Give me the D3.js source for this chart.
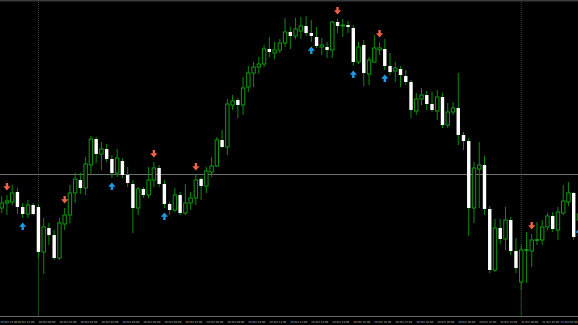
<!DOCTYPE html>
<html>
<head>
<meta charset="utf-8">
<script src="https://cdn.jsdelivr.net/npm/d3@7"></script>
<style>
    html, body { margin: 0; padding: 0; background: #000; }
    svg { display: block; }
</style>
</head>
<body>
<svg id="chart" width="578" height="325"></svg>
<script>
'use strict';

// bar prices, in points (bar 0 = leftmost)
var opens = [112,117,118,128,113,106,115,113,68,92,85,62,96,105,127,140,132,155,181,166,
    171,161,147,159,145,136,112,131,125,140,152,136,116,110,125,107,117,122,141,134,
    148,154,180,173,215,220,215,233,247,253,256,271,267,270,277,288,284,289,294,287,
    283,273,273,270,298,294,295,292,258,275,246,258,270,271,254,249,251,244,238,209,
    221,225,216,209,223,195,208,212,185,179,112,151,155,111,50,92,81,100,69,38,
    70,69,80,80,93,104,90,107,118,127,100];
var highs = [124,125,135,132,117,120,117,116,102,97,90,102,112,135,147,147,163,184,183,178,
    176,165,171,162,153,140,133,133,153,158,155,140,118,132,128,136,128,145,143,153,
    163,183,190,221,225,222,243,254,258,263,275,283,278,281,302,293,302,303,304,300,
    293,282,278,299,301,301,299,295,278,280,263,285,278,281,267,258,254,250,240,227,
    232,229,228,230,227,217,218,247,188,182,158,178,164,114,101,101,113,103,82,75,
    88,86,98,100,107,108,113,135,138,128,108];
var lows = [107,105,115,106,102,102,105,62,46,75,60,60,90,97,117,126,125,145,157,150,
    158,142,143,142,133,87,105,122,122,133,133,112,105,108,105,105,110,115,120,127,
    143,153,172,165,210,202,205,228,233,246,253,263,261,267,273,271,281,281,284,278,
    272,265,262,262,287,283,287,254,256,234,235,257,265,250,245,238,233,235,202,205,
    215,210,208,200,192,192,205,175,170,84,97,112,105,47,48,76,70,65,47,30,
    37,53,75,75,90,88,80,105,114,80,96];
var closes = [117,119,127,113,106,115,106,68,93,85,62,97,105,127,141,132,156,181,166,171,
    161,147,162,145,137,112,131,125,140,152,136,116,110,125,107,117,122,140,134,149,
    154,180,173,216,219,215,232,247,253,256,271,268,270,277,288,284,291,294,287,284,
    274,275,270,298,294,295,293,258,273,247,260,272,272,254,248,252,245,238,210,221,
    225,216,210,223,195,208,212,185,179,112,152,155,111,50,92,81,100,69,52,70,
    70,80,80,93,104,91,108,119,127,83,106];

var bidPrice = 146.5;

// signal bars of the arrow indicator
var sellSignals = [1, 12, 29, 37, 64, 72, 101];
var buySignals = [4, 21, 31, 59, 67, 73, 110];

// period separators
var separatorBars = [7, 99];

// time axis, one label every 4 bars
var tickBars = [-1, 3, 7, 11, 15, 19, 23, 27, 31, 35, 39, 43, 47, 51, 55, 59, 63, 67,
    71, 75, 79, 83, 87, 91, 95, 99, 103, 107];
var tickLabels = ['19 Oct 21:00', '19 Oct 22:00', '20 Oct 00:00', '20 Oct 01:00', '20 Oct 02:00',
    '20 Oct 03:00', '20 Oct 04:00', '20 Oct 05:00', '20 Oct 06:00', '20 Oct 07:00',
    '20 Oct 08:00', '20 Oct 09:00', '20 Oct 10:00', '20 Oct 11:00', '20 Oct 12:00',
    '20 Oct 13:00', '20 Oct 14:00', '20 Oct 15:00', '20 Oct 16:00', '20 Oct 17:00',
    '20 Oct 18:00', '20 Oct 19:00', '20 Oct 20:00', '20 Oct 21:00', '20 Oct 22:00',
    '21 Oct 00:00', '21 Oct 01:00', '21 Oct 02:00'];

(function() {

    var svg = d3.select('#chart');

    var width = +svg.attr('width');
    var axisY = 316.5;

    var bodyWidth = 3.4;
    var arrowGap = 8;

    var colors = {
        wick: '#0b8c0b',
        bull: '#0c9c0c',
        bear: '#ffffff',
        doji: '#2fd02f',
        sell: '#f0604a',
        buy: '#1e9be6',
        separator: '#474747',
        separatorLow: '#0b4a0b',
        bid: '#707070',
        axis: '#6a6a6a',
        text: '#c4c4c4'
    };

    var bars = opens.map(function(o, i) {
        return { index: i, open: o, high: highs[i], low: lows[i], close: closes[i] };
    });

    var x = d3.scaleLinear()
        .domain([0, 109])
        .range([1.7, 573.7]);

    var y = d3.scaleLinear()
        .domain([0, 320])
        .range([320, 0]);

    var createFrame = function() {
        svg.append('rect')
            .attr('width', width)
            .attr('height', 325)
            .attr('fill', '#000')
        ;

        svg.append('rect')
            .attr('x', 0)
            .attr('y', 0)
            .attr('width', width)
            .attr('height', 1.5)
            .attr('fill', '#3a3a3a')
        ;

        separatorBars.forEach(function(b) {
            svg.append('line')
                .attr('x1', x(b)).attr('x2', x(b))
                .attr('y1', 0).attr('y2', axisY)
                .attr('stroke', colors.separator)
                .attr('stroke-dasharray', '1,1')
            ;
            svg.append('line')
                .attr('x1', x(b)).attr('x2', x(b))
                .attr('y1', y(lows[b])).attr('y2', axisY)
                .attr('stroke', colors.separatorLow)
            ;
        });

        svg.append('line')
            .attr('x1', 0).attr('x2', width)
            .attr('y1', Math.round(y(bidPrice)) + 0.5).attr('y2', Math.round(y(bidPrice)) + 0.5)
            .attr('stroke', colors.bid)
        ;
    };

    var createCandles = function() {
        var g = svg.append('g').attr('class', 'candles');

        var candle = g.selectAll('.candle')
            .data(bars)
            .enter().append('g')
            .attr('class', 'candle')
        ;

        candle.append('line')
            .attr('x1', function(d) { return x(d.index); })
            .attr('x2', function(d) { return x(d.index); })
            .attr('y1', function(d) { return y(d.high); })
            .attr('y2', function(d) { return y(d.low); })
            .attr('stroke', colors.wick)
        ;

        candle.filter(function(d) { return d.close > d.open; })
            .append('rect')
            .attr('x', function(d) { return x(d.index) - bodyWidth / 2; })
            .attr('y', function(d) { return y(d.close); })
            .attr('width', bodyWidth)
            .attr('height', function(d) { return y(d.open) - y(d.close); })
            .attr('fill', '#000')
            .attr('stroke', colors.bull)
        ;

        candle.filter(function(d) { return d.close < d.open; })
            .append('rect')
            .attr('x', function(d) { return x(d.index) - bodyWidth / 2; })
            .attr('y', function(d) { return y(d.open); })
            .attr('width', bodyWidth)
            .attr('height', function(d) { return y(d.close) - y(d.open); })
            .attr('fill', colors.bear)
        ;

        candle.filter(function(d) { return d.close === d.open; })
            .append('line')
            .attr('x1', function(d) { return x(d.index) - bodyWidth / 2 - 0.5; })
            .attr('x2', function(d) { return x(d.index) + bodyWidth / 2 + 0.5; })
            .attr('y1', function(d) { return y(d.close); })
            .attr('y2', function(d) { return y(d.close); })
            .attr('stroke', colors.doji)
            .attr('stroke-width', 1.2)
        ;
    };

    var createSignals = function() {
        var downArrow = 'M-1.2,-4L1.2,-4L1.2,-0.8L3.6,-0.8L0,3.4L-3.6,-0.8L-1.2,-0.8Z';
        var upArrow = 'M-1.2,4L1.2,4L1.2,0.8L3.6,0.8L0,-3.4L-3.6,0.8L-1.2,0.8Z';

        svg.selectAll('.sell')
            .data(sellSignals)
            .enter().append('path')
            .attr('class', 'sell')
            .attr('d', downArrow)
            .attr('fill', colors.sell)
            .attr('transform', function(b) {
                return 'translate(' + x(b) + ',' + (y(highs[b]) - arrowGap) + ')';
            })
        ;

        svg.selectAll('.buy')
            .data(buySignals)
            .enter().append('path')
            .attr('class', 'buy')
            .attr('d', upArrow)
            .attr('fill', colors.buy)
            .attr('transform', function(b) {
                return 'translate(' + x(b) + ',' + (y(lows[b]) + arrowGap) + ')';
            })
        ;
    };

    var createTimeAxis = function() {
        var axis = svg.append('g').attr('class', 'time-axis');

        axis.append('rect')
            .attr('x', 0)
            .attr('y', axisY + 0.5)
            .attr('width', width)
            .attr('height', 325 - axisY)
            .attr('fill', '#000')
        ;

        axis.append('line')
            .attr('x1', 0).attr('x2', width)
            .attr('y1', axisY).attr('y2', axisY)
            .attr('stroke', colors.axis)
        ;

        var labels = axis.selectAll('text')
            .data(tickLabels)
            .enter().append('text')
            .attr('y', 322.5)
            .attr('font-family', 'DejaVu Sans')
            .attr('font-size', 2.6)
            .attr('fill', colors.text)
            .text(function(d) { return d; })
        ;

        // keep the labels at the chart edges inside the picture
        labels.attr('x', function(d, i) {
            var len = this.getComputedTextLength();
            var pos = x(tickBars[i]);
            return Math.max(0.3, Math.min(pos, width - len - 0.5));
        });
    };

    createFrame();
    createCandles();
    createSignals();
    createTimeAxis();

})();
</script>
</body>
</html>
